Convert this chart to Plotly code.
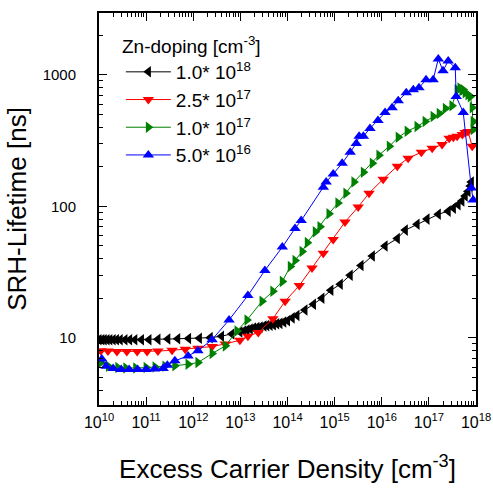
import numpy as np
import plotly.graph_objects as go

# ---- data (x given as log10 of excess carrier density, y = SRH lifetime in ns) ----
black_logn = [10.0, 10.06, 10.11, 10.17, 10.23, 10.3, 10.37, 10.45, 10.55, 10.65, 10.76, 10.9, 11.06, 11.25,
              11.46, 11.67, 11.9, 12.13, 12.36, 12.6, 12.82, 12.99, 13.07, 13.14, 13.21, 13.28, 13.35,
              13.42, 13.5, 13.56, 13.63, 13.7, 13.77, 13.84, 13.92, 14.0, 14.1, 14.2, 14.37, 14.55, 14.73,
              14.92, 15.12, 15.33, 15.56, 15.8, 16.07, 16.33, 16.5, 16.75, 16.96, 17.2, 17.41, 17.52,
              17.62, 17.7, 17.77, 17.83, 17.88, 17.9]
black_tau = [9.7, 9.7, 9.7, 9.7, 9.7, 9.7, 9.7, 9.7, 9.7, 9.7, 9.7, 9.7, 9.7, 9.75,
             9.8, 9.85, 9.9, 9.95, 10.05, 10.3, 10.7, 11.1, 11.3, 11.5, 11.7, 11.9, 12.0,
             12.1, 12.3, 12.4, 12.5, 12.6, 12.8, 12.9, 13.2, 13.5, 14.2, 14.8, 16.3, 18.0, 20.0,
             23.0, 25.6, 30.0, 35.5, 42.0, 50.0, 57.0, 66.0, 73.0, 80.0, 87.0, 92.0, 97.0,
             103.0, 110.0, 120.0, 130.0, 143.0, 153.0]

red_logn = [10.04, 10.19, 10.38, 10.59, 10.81, 11.02, 11.25, 11.55, 11.83, 12.1, 12.4, 12.68, 12.99,
            13.16, 13.38, 13.69, 13.95, 14.25, 14.52, 14.76, 14.97, 15.22, 15.5, 15.73, 16.03, 16.33,
            16.56, 16.84, 17.07, 17.28, 17.43, 17.52, 17.6, 17.71, 17.77, 17.83, 17.92]
red_tau = [8.0, 7.95, 7.9, 7.9, 7.9, 7.9, 7.95, 8.05, 8.2, 8.35, 8.6, 9.0, 9.6,
           10.3, 11.0, 14.0, 19.0, 25.0, 34.0, 44.0, 56.0, 76.0, 99.0, 126.0, 161.0, 202.0,
           232.0, 258.0, 276.0, 295.0, 329.0, 335.0, 341.0, 352.0, 365.0, 371.0, 286.0]

green_logn = [10.04, 10.2, 10.4, 10.57, 10.78, 11.0, 11.19, 11.4, 11.61, 11.89, 12.1, 12.4, 12.68,
              12.93, 13.14, 13.46, 13.69, 13.89, 14.06, 14.16, 14.31, 14.42, 14.59, 14.69, 14.88,
              15.07, 15.24, 15.41, 15.61, 15.8, 15.94, 16.16, 16.35, 16.54, 16.75, 16.92, 17.09,
              17.22, 17.35, 17.49, 17.6, 17.66, 17.7, 17.73, 17.77, 17.83, 17.88, 17.92, 17.94, 17.94]
green_tau = [6.5, 6.1, 5.95, 5.9, 5.9, 5.95, 6.0, 6.1, 6.15, 6.3, 6.5, 7.6, 8.7,
             11.3, 13.7, 19.0, 22.6, 26.9, 34.9, 38.8, 45.4, 53.0, 64.0, 70.0, 88.0,
             106.0, 126.0, 153.0, 182.0, 213.0, 245.0, 286.0, 335.0, 372.0, 405.0, 442.0, 482.0,
             508.0, 554.0, 583.0, 771.0, 795.0, 760.0, 771.0, 731.0, 706.0, 683.0, 563.0, 442.0, 384.0]

blue_logn = [10.06, 10.15, 10.3, 10.47, 10.64, 10.82, 11.0, 11.18, 11.36, 11.45, 11.61, 11.89, 12.1,
             12.4, 12.76, 13.16, 13.52, 13.89, 14.16, 14.29, 14.76, 14.82, 14.97, 15.16, 15.33,
             15.46, 15.52, 15.61, 15.75, 15.92, 16.07, 16.22, 16.35, 16.52, 16.67, 16.79, 16.94,
             17.09, 17.2, 17.3, 17.41, 17.56, 17.58, 17.73, 17.9, 17.94]
blue_tau = [6.9, 6.1, 5.85, 5.75, 5.75, 5.75, 5.75, 5.8, 5.85, 6.2, 6.7, 7.3, 8.0,
            9.7, 13.7, 21.0, 32.6, 49.0, 68.0, 78.0, 140.0, 153.0, 176.0, 213.0, 258.0,
            301.0, 341.0, 341.0, 391.0, 450.0, 517.0, 563.0, 636.0, 731.0, 771.0, 798.0, 916.0,
            916.0, 1320.0, 1072.0, 1276.0, 1130.0, 683.0, 517.0, 138.0, 112.0]

legend_title = "Zn-doping [cm<sup>-3</sup>]"
series_names = ["1.0* 10<sup>18</sup>", "2.5* 10<sup>17</sup>", "1.0* 10<sup>17</sup>", "5.0* 10<sup>16</sup>"]
x_tick_exponents = [10, 11, 12, 13, 14, 15, 16, 17, 18]
y_tick_values = [10, 100, 1000]

series = [
    (black_logn, black_tau, "black", "triangle-left"),
    (red_logn, red_tau, "#ff0000", "triangle-down"),
    (green_logn, green_tau, "#008000", "triangle-right"),
    (blue_logn, blue_tau, "#0000ff", "triangle-up"),
]

FONT = "Arial, 'Liberation Sans', sans-serif"
fig = go.Figure()
for (lx, ty, col, sym), name in zip(series, series_names):
    fig.add_trace(go.Scatter(
        x=10 ** np.array(lx), y=ty, mode="lines+markers", name=name,
        line=dict(color=col, width=1),
        marker=dict(symbol=sym, size=10, color=col, line=dict(width=0)),
    ))

axis_common = dict(
    type="log", showgrid=False, zeroline=False, showline=True, linecolor="black", linewidth=2,
    ticks="inside", ticklen=8, tickwidth=1.2, tickcolor="black", mirror="ticks",
    automargin=False,
    minor=dict(ticks="inside", ticklen=4, tickwidth=1, tickcolor="black", dtick="D1", showgrid=False),
)

fig.update_layout(
    width=493, height=488,
    margin=dict(l=99, r=17, t=13, b=83),
    paper_bgcolor="white", plot_bgcolor="white",
    font=dict(family=FONT, color="black"),
    showlegend=True,
    legend=dict(
        x=0.058, y=0.898, xanchor="left", yanchor="top",
        bgcolor="rgba(0,0,0,0)", borderwidth=0,
        font=dict(family=FONT, size=19, color="black"),
        tracegroupgap=0, itemwidth=45,
    ),
    annotations=[dict(
        text=legend_title, xref="paper", yref="paper", x=0.056, y=0.918,
        xanchor="left", yanchor="middle", showarrow=False,
        font=dict(family=FONT, size=19, color="black"),
    )],
    xaxis=dict(
        **axis_common,
        tickfont=dict(family=FONT, size=16, color="black"),
        range=[10, 18],
        tickvals=[10 ** e for e in x_tick_exponents],
        ticktext=[f"10<sup>{e}</sup>" for e in x_tick_exponents],
        ticklabelstandoff=2,
        title=dict(text="Excess Carrier Density [cm<sup>-3</sup>]", font=dict(family=FONT, size=26), standoff=30),
    ),
    yaxis=dict(
        **axis_common,
        tickfont=dict(family=FONT, size=15, color="black"),
        range=[0.49, 3.47],
        tickvals=y_tick_values,
        ticktext=[str(v) for v in y_tick_values],
        ticklabelstandoff=18,
        title=dict(text="SRH-Lifetime [ns]", font=dict(family=FONT, size=26), standoff=9),
    ),
)

fig.write_html("out.html")
